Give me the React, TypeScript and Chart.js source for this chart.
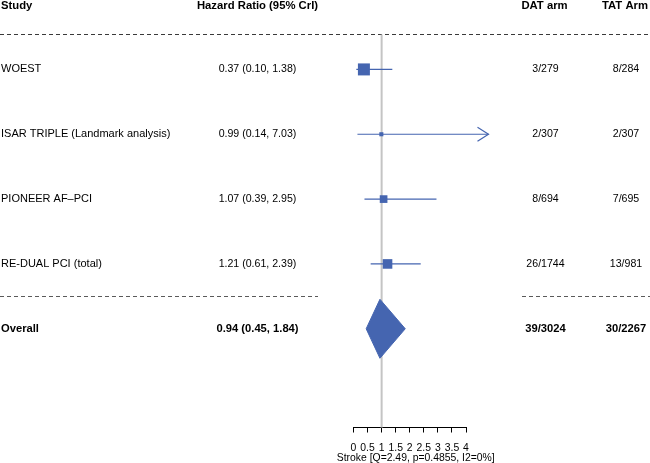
import React, { useEffect, useRef } from "react";
import { Chart, registerables } from "chart.js";

Chart.register(...registerables);

// ---- data ----
const headers = ["Study", "Hazard Ratio (95% CrI)", "DAT arm", "TAT Arm"];
const studies = ["WOEST", "ISAR TRIPLE (Landmark analysis)", "PIONEER AF\u2013PCI", "RE-DUAL PCI (total)"];
const estimates = [0.37, 0.99, 1.07, 1.21];
const lowerCI = [0.1, 0.14, 0.39, 0.61];
const upperCI = [1.38, 7.03, 2.95, 2.39];
const studyWeights = [1.0, 0.34, 0.64, 0.8];
const datEvents = ["3/279", "2/307", "8/694", "26/1744"];
const tatEvents = ["8/284", "2/307", "7/695", "13/981"];
const overallLabel = "Overall";
const overallEstimate = [0.94];
const overallLower = [0.45];
const overallUpper = [1.84];
const overallDat = ["39/3024"];
const overallTat = ["30/2267"];
const xTicks = [0, 0.5, 1, 1.5, 2, 2.5, 3, 3.5, 4];
const xMin = 0;
const xMax = 4;
const clipMax = 4.8;
const nullEffect = 1;
const axisTitle = "Stroke [Q=2.49, p=0.4855, I2=0%]";

const BLUE = "#4565b0";
const FONT = '"Liberation Sans", Arial, Helvetica, sans-serif';
const Y_TOP = 0.46;
const Y_MIN = 0.5;
const Y_MAX = 6.523;
const OVERALL_ROW = studies.length + 1;

const fmt = (e: number, l: number, h: number) => `${e.toFixed(2)} (${l.toFixed(2)}, ${h.toFixed(2)})`;

export default function App() {
  const ref = useRef<HTMLCanvasElement | null>(null);

  useEffect(() => {
    const canvas = ref.current;
    if (!canvas) return;

    const textPlugin = {
      id: "forestText",
      beforeDatasetsDraw(chart: any) {
        const ctx = chart.ctx;
        const ys = chart.scales.y;
        ctx.save();
        ctx.lineWidth = 1;
        ctx.setLineDash([4, 3]);
        ctx.strokeStyle = "#3a3a3a";
        const yt = Math.round(ys.getPixelForValue(Y_TOP)) + 0.5;
        ctx.beginPath();
        ctx.moveTo(0, yt);
        ctx.lineTo(chart.width, yt);
        ctx.stroke();
        ctx.strokeStyle = "#5a5a5a";
        const ym = Math.round(ys.getPixelForValue(studies.length + 0.5)) + 0.5;
        ctx.beginPath();
        ctx.moveTo(0, ym);
        ctx.lineTo(318, ym);
        ctx.moveTo(522, ym);
        ctx.lineTo(chart.width, ym);
        ctx.stroke();
        ctx.restore();
      },
      afterDatasetsDraw(chart: any) {
        const ctx = chart.ctx;
        const xs = chart.scales.x;
        const ys = chart.scales.y;
        ctx.save();
        ctx.strokeStyle = BLUE;
        ctx.lineWidth = 1.2;
        upperCI.forEach((h, i) => {
          if (h > clipMax) {
            const px = xs.getPixelForValue(clipMax);
            const py = ys.getPixelForValue(i + 1);
            ctx.beginPath();
            ctx.moveTo(px - 11, py - 7);
            ctx.lineTo(px, py);
            ctx.lineTo(px - 11, py + 7);
            ctx.stroke();
          }
        });
        ctx.fillStyle = "#000";
        ctx.textBaseline = "alphabetic";
        ctx.font = `bold 11.3px ${FONT}`;
        ctx.textAlign = "left";
        ctx.fillText(headers[0], 1, 8.6);
        ctx.textAlign = "center";
        ctx.fillText(headers[1], 257.5, 8.6);
        ctx.fillText(headers[2], 544.5, 8.6);
        ctx.fillText(headers[3], 625, 8.6);

        ctx.textBaseline = "middle";
        studies.forEach((s, i) => {
          const py = ys.getPixelForValue(i + 1);
          ctx.font = `11px ${FONT}`;
          ctx.textAlign = "left";
          ctx.fillText(s, 1, py);
          ctx.font = `10.6px ${FONT}`;
          ctx.textAlign = "center";
          ctx.fillText(fmt(estimates[i], lowerCI[i], upperCI[i]), 257.5, py);
          ctx.fillText(datEvents[i], 545.5, py);
          ctx.fillText(tatEvents[i], 626, py);
        });
        const po = ys.getPixelForValue(OVERALL_ROW);
        ctx.font = `bold 11.2px ${FONT}`;
        ctx.textAlign = "left";
        ctx.fillText(overallLabel, 1, po);
        ctx.textAlign = "center";
        ctx.fillText(fmt(overallEstimate[0], overallLower[0], overallUpper[0]), 257.5, po);
        ctx.fillText(overallDat[0], 545.5, po);
        ctx.fillText(overallTat[0], 626, po);

        ctx.font = `10.4px ${FONT}`;
        ctx.textAlign = "center";
        ctx.fillText(axisTitle, (xs.left + xs.right) / 2 + 6, 458.3);
        ctx.restore();
      },
    };

    const datasets: any[] = [];
    datasets.push({
      type: "line",
      data: [
        { x: nullEffect, y: Y_TOP },
        { x: nullEffect, y: Y_MAX },
      ],
      borderColor: "#c4c4c4",
      borderWidth: 2,
      pointRadius: 0,
      clip: false,
      order: 10,
    });
    studies.forEach((_, i) => {
      datasets.push({
        type: "line",
        data: [
          { x: Math.max(lowerCI[i], xMin), y: i + 1 },
          { x: Math.min(upperCI[i], clipMax), y: i + 1 },
        ],
        borderColor: BLUE,
        borderWidth: 1.2,
        pointRadius: 0,
        clip: false,
        order: 5,
      });
    });
    datasets.push({
      type: "scatter",
      data: estimates.map((e, i) => ({ x: e, y: i + 1 })),
      pointStyle: "rect",
      pointRadius: studyWeights.map((w) => (12 * w) / Math.SQRT2),
      backgroundColor: BLUE,
      borderColor: BLUE,
      borderWidth: 0,
      clip: false,
      order: 1,
    });
    const h = 0.455;
    datasets.push({
      type: "line",
      data: [
        { x: overallLower[0], y: OVERALL_ROW },
        { x: overallEstimate[0], y: OVERALL_ROW - h },
        { x: overallUpper[0], y: OVERALL_ROW },
        { x: overallEstimate[0], y: OVERALL_ROW + h },
        { x: overallLower[0], y: OVERALL_ROW },
      ],
      borderColor: BLUE,
      borderWidth: 1,
      backgroundColor: BLUE,
      fill: "shape",
      pointRadius: 0,
      clip: false,
      order: 0,
    });

    const chart = new Chart(canvas, {
      type: "line",
      data: { datasets },
      options: {
        animation: false,
        responsive: false,
        maintainAspectRatio: false,
        events: [],
        layout: { padding: { left: 353.5, right: 184, top: 37, bottom: 0 } },
        plugins: {
          legend: { display: false },
          tooltip: { enabled: false },
          title: { display: false },
        },
        scales: {
          x: {
            type: "linear",
            min: xMin,
            max: xMax,
            afterBuildTicks: (axis: any) => {
              axis.ticks = xTicks.map((v) => ({ value: v }));
            },
            ticks: {
              autoSkip: false,
              maxRotation: 0,
              padding: 9,
              color: "#000",
              font: { family: FONT, size: 10.4 },
              callback: (v: any) => String(v),
            },
            grid: {
              display: true,
              drawOnChartArea: false,
              drawTicks: true,
              tickLength: 5,
              tickColor: "#000",
              color: "#000",
            },
            border: { display: true, color: "#000", width: 1 },
            title: { display: false },
          },
          y: {
            type: "linear",
            reverse: true,
            min: Y_MIN,
            max: Y_MAX,
            display: false,
          },
        },
      },
      plugins: [textPlugin],
    } as any);

    return () => chart.destroy();
  }, []);

  return (
    <div style={{ position: "absolute", left: 0, top: 0, width: 650, height: 463, background: "#fff" }}>
      <canvas ref={ref} width={650} height={463} style={{ width: 650, height: 463, display: "block" }} />
    </div>
  );
}
